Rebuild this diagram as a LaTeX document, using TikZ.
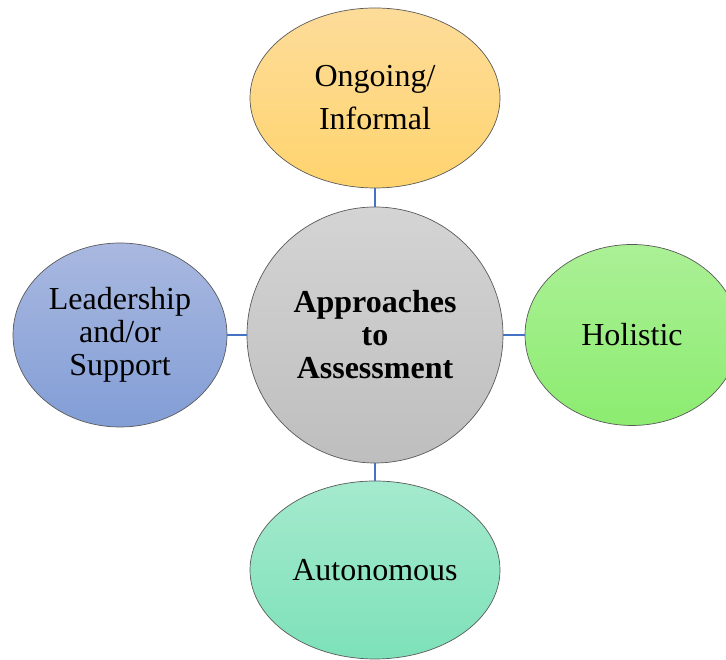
\documentclass[tikz,border=0pt]{standalone}
\usepackage{fontspec}
\setmainfont{Liberation Serif}
\usetikzlibrary{shapes.geometric}
\definecolor{orT}{HTML}{FDDC9A}\definecolor{orB}{HTML}{FFD46E}
\definecolor{blT}{HTML}{A9B8E0}\definecolor{blB}{HTML}{829ED6}
\definecolor{grT}{HTML}{ABF096}\definecolor{grB}{HTML}{8CEC70}
\definecolor{teT}{HTML}{A5EACE}\definecolor{teB}{HTML}{7DE1B9}
\definecolor{gyT}{HTML}{D4D4D4}\definecolor{gyB}{HTML}{BEBEBE}
\definecolor{link}{HTML}{4472C4}
\definecolor{edge}{HTML}{5A5A5A}
\tikzset{
  bubble/.style={ellipse, draw=edge, line width=0.7pt, inner sep=0pt, align=center,
    font=\fontsize{32}{33}\selectfont},
  hub/.style={circle, draw=edge, line width=0.7pt, inner sep=0pt, align=center,
    minimum size=256pt, top color=gyT, bottom color=gyB,
    font=\fontsize{32}{33}\selectfont\bfseries},
  linkline/.style={draw=link, line width=2.2pt}
}
\begin{document}
\begin{tikzpicture}[x=1pt,y=1pt]
\useasboundingbox (0,0) rectangle (726,660);
\clip (0,0) rectangle (726,660);
\node[hub] (c) at (375,325) {Approaches\\to\\Assessment};
\node[bubble, minimum width=250pt, minimum height=180pt, top color=orT, bottom color=orB,
  font=\fontsize{32}{43}\selectfont] (t) at (375,562) {Ongoing/\\Informal};
\node[bubble, minimum width=214pt, minimum height=184pt, top color=blT, bottom color=blB] (l) at (120,325) {Leadership\\and/or\\Support};
\node[bubble, minimum width=214pt, minimum height=181pt, top color=grT, bottom color=grB] (r) at (632,325) {Holistic};
\node[bubble, minimum width=250pt, minimum height=178pt, top color=teT, bottom color=teB] (b) at (375,90) {Autonomous};
\draw[linkline] (c.north) -- (t.south);
\draw[linkline] (c.south) -- (b.north);
\draw[linkline] (c.west) -- (l.east);
\draw[linkline] (c.east) -- (r.west);
\end{tikzpicture}
\end{document}
